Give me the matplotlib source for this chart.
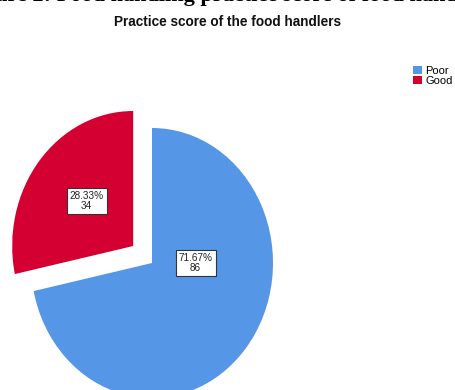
import matplotlib
matplotlib.use("Agg")
import matplotlib.pyplot as plt
from matplotlib.patches import Patch

categories = ["Poor", "Good"]
counts = [86, 34]
colors = ["#5596e6", "#d40032"]
caption = "Figure 2: Food handling practice score of food handlers"
title = "Practice score of the food handlers"

W, H = 456, 390
fig = plt.figure(figsize=(W / 100, H / 100), dpi=100)
ax = fig.add_axes([0, 0, 1, 1])

ax.pie(counts, colors=colors, startangle=90, counterclock=False,
       explode=[0, 0.2], radius=1, wedgeprops=dict(linewidth=0))

# pixel geometry of pie
cx, cy = 152, 263
rx, ry = 121, 135
ax.set_aspect("auto")
ax.set_xlim(-cx / rx, (W - cx) / rx)
ax.set_ylim(-(H - cy) / ry, cy / ry)
ax.axis("off")

total = sum(counts)
box = dict(boxstyle="square,pad=0.3", fc="white", ec="#333333", lw=0.8)
label_pos = {"Poor": (0.36, 0.0), "Good": (-0.54, 0.46)}
for cat, c in zip(categories, counts):
    x, y = label_pos[cat]
    ax.text(x, y, f"{100 * c / total:.2f}%\n{c}", ha="center", va="center",
            fontsize=7.2, family="Liberation Sans", color="#222222",
            linespacing=1.0, bbox=box)

fig.text(0.5, 1 - 0.5 / H, caption, ha="center", va="baseline",
         fontsize=16, family="Liberation Serif", fontweight="bold")
fig.text(0.5, 1 - 22 / H, title, ha="center", va="center",
         fontsize=9.8, family="Liberation Sans", fontweight="bold", color="#111111")

handles = [Patch(facecolor=col, edgecolor="none") for col in colors]
fig.legend(handles, categories, loc="upper left",
           bbox_to_anchor=(405 / W, 1 - 58 / H), frameon=False,
           prop=dict(family="Liberation Sans", size=8.0),
           handlelength=0.85, handleheight=0.8, handletextpad=0.3,
           labelspacing=0.0, borderpad=0.2)

fig.savefig("out.png", dpi=100)
